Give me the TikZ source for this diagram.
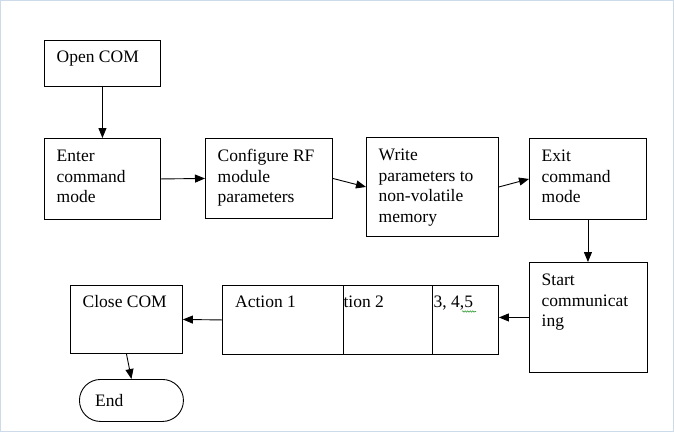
\documentclass[tikz,border=0pt]{standalone}
\usepackage{fontspec}
\setmainfont{Liberation Serif}
\usepackage{tikz}
\usetikzlibrary{arrows.meta,positioning,calc,decorations.pathmorphing}
\definecolor{framegray}{RGB}{205,218,232}
\definecolor{spellgreen}{RGB}{60,160,60}

\begin{document}
\begin{tikzpicture}[x=1pt,y=-1pt,
    box/.style={draw, line width=0.9pt, anchor=north west, inner sep=0pt},
    txt/.style={anchor=north west, inner sep=0pt, align=left, font=\fontsize{17.5}{20.5}\selectfont},
    arr/.style={-{Triangle[length=10pt,width=8pt]}, line width=0.9pt}]
    \useasboundingbox (0,0) rectangle (674,432);
    % Frame
    \draw[framegray, line width=1.2pt] (0.6,0.6) rectangle (673.4,431.4);

    % Boxes
    \node[box, minimum width=116, minimum height=46] (open) at (44,40) {};
    \node[box, minimum width=116, minimum height=81] (enter) at (44,138) {};
    \node[box, minimum width=127, minimum height=80] (config) at (205,138) {};
    \node[box, minimum width=132, minimum height=99] (write) at (366,137) {};
    \node[box, minimum width=117, minimum height=81] (exit) at (529,138) {};
    \node[box, minimum width=118, minimum height=110] (start) at (529,262) {};
    \node[box, minimum width=276, minimum height=69] (action) at (222,285) {};
    \node[box, minimum width=112, minimum height=68] (close) at (70,285) {};
    \node[box, minimum width=104, minimum height=42, rounded corners=21pt] (end) at (79,379) {};

    % Action cells
    \draw[line width=0.9pt] ($(action.north west)+(121,0)$) -- ($(action.south west)+(121,0)$);
    \draw[line width=0.9pt] ($(action.north west)+(210,0)$) -- ($(action.south west)+(210,0)$);

    % Texts
    \node[txt] (t-open) at ($(open.north west)+(12.5,8)$) {\strut Open COM};
    \node[txt] (t-enter) at ($(enter.north west)+(12.5,9)$) {\strut Enter\\command\\mode};
    \node[txt] (t-config) at ($(config.north west)+(12.5,9)$) {\strut Configure RF\\module\\parameters};
    \node[txt] (t-write) at ($(write.north west)+(12.5,9)$) {\strut Write\\parameters to\\non-volatile\\memory};
    \node[txt] (t-exit) at ($(exit.north west)+(12.5,9)$) {\strut Exit\\command\\mode};
    \node[txt] (t-start) at ($(start.north west)+(12.5,9)$) {\strut Start\\communicat\\ing};
    \node[txt] (t-act1) at ($(action.north west)+(13,8)$) {\strut Action 1};
    \begin{scope}
        \clip ($(action.north west)+(121,0)$) rectangle ($(action.south west)+(210,0)$);
        \node[txt] (t-act2) at ($(action.north west)+(101,8)$) {\strut Action 2};
    \end{scope}
    \node[txt] (t-act3) at ($(action.north west)+(211.5,8)$) {\strut 3, 4,5};
    \draw[spellgreen, line width=0.6pt, decorate, decoration={snake, amplitude=0.7pt, segment length=2.5pt}]
        ($(action.north west)+(240,26.5)$) -- ($(action.north west)+(254,26.5)$);
    \node[txt] (t-close) at ($(close.north west)+(12.5,8)$) {\strut Close COM};
    \node[txt] (t-end) at ($(end.north west)+(16,12.5)$) {\strut End};

    % Arrows
    \draw[arr] (open.south) -- (enter.north);
    \draw[arr] (enter.east) -- (config.west);
    \draw[arr] (config.east) -- (write.west);
    \draw[arr] (write.east) -- (exit.west);
    \draw[arr] (exit.south) -- (exit.south |- start.north);
    \draw[arr] (start.west) -- (start.west -| action.east);
    \draw[arr] (action.west) -- (close.east);
    \draw[arr] (close.south) -- (end.north);
\end{tikzpicture}
\end{document}
